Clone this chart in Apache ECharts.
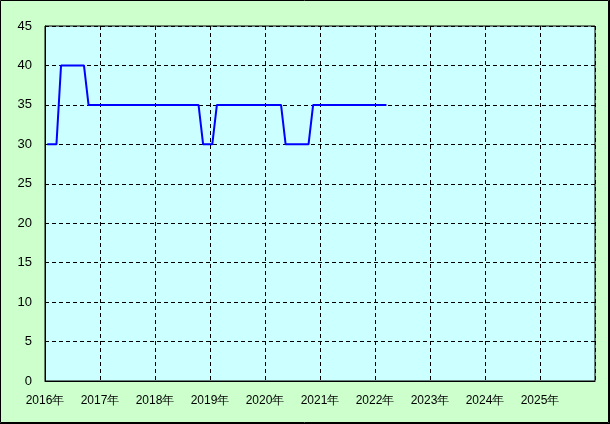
<!DOCTYPE html>
<html>
<head>
<meta charset="utf-8">
<script src="https://cdn.jsdelivr.net/npm/echarts@6/dist/echarts.min.js"></script>
<style>
html,body{margin:0;padding:0;background:#ccffcc;}
#c{width:610px;height:424px;}
</style>
</head>
<body>
<div id="c"></div>
<script>
// monthly observations (year-month) and their values
const months = [
  '2016-01','2016-02','2016-03','2016-04','2016-05','2016-06','2016-07','2016-08','2016-09','2016-10','2016-11','2016-12',
  '2017-01','2017-02','2017-03','2017-04','2017-05','2017-06','2017-07','2017-08','2017-09','2017-10','2017-11','2017-12',
  '2018-01','2018-02','2018-03','2018-04','2018-05','2018-06','2018-07','2018-08','2018-09','2018-10','2018-11','2018-12',
  '2019-01','2019-02','2019-03','2019-04','2019-05','2019-06','2019-07','2019-08','2019-09','2019-10','2019-11','2019-12',
  '2020-01','2020-02','2020-03','2020-04','2020-05','2020-06','2020-07','2020-08','2020-09','2020-10','2020-11','2020-12',
  '2021-01','2021-02','2021-03','2021-04','2021-05','2021-06','2021-07','2021-08','2021-09','2021-10','2021-11','2021-12',
  '2022-01','2022-02','2022-03'
];
const values = [
  30,30,30,40,40,40,40,40,40,35,35,35,
  35,35,35,35,35,35,35,35,35,35,35,35,
  35,35,35,35,35,35,35,35,35,35,30,30,
  30,35,35,35,35,35,35,35,35,35,35,35,
  35,35,35,35,30,30,30,30,30,30,35,35,
  35,35,35,35,35,35,35,35,35,35,35,35,
  35,35,35
];
const xMinYear = 2016;
const xMaxYear = 2026;
const yMin = 0, yMax = 45, yStep = 5;

// place each monthly value at the middle of its month on a year scale
const seriesData = months.map((m, i) => {
  const [y, mo] = m.split('-').map(Number);
  return [y + (mo - 0.5) / 12, values[i]];
});

const chart = echarts.init(document.getElementById('c'), null, {renderer: 'canvas'});
const dash = {color: '#000', width: 1, type: [4, 3]};
chart.setOption({
  animation: false,
  backgroundColor: '#ccffcc',
  textStyle: {fontFamily: 'Liberation Sans, Arial, sans-serif'},
  grid: {
    left: 45, top: 26, right: 15, bottom: 43,
    show: true, backgroundColor: '#ccffff', borderColor: '#000', borderWidth: 1
  },
  xAxis: {
    type: 'value', min: xMinYear, max: xMaxYear, interval: 1,
    axisLine: {show: true, lineStyle: {color: '#000'}},
    axisTick: {show: false},
    splitLine: {show: true, lineStyle: dash},
    axisLabel: {
      color: '#000', fontSize: 12, margin: 14,
      formatter: v => (v < xMaxYear ? v + '年' : '')
    }
  },
  yAxis: {
    type: 'value', min: yMin, max: yMax, interval: yStep,
    axisLine: {show: true, lineStyle: {color: '#000'}},
    axisTick: {show: false},
    splitLine: {show: true, lineStyle: dash},
    axisLabel: {color: '#000', fontSize: 13, margin: 13}
  },
  graphic: [
    {type: 'rect', shape: {x: 0.5, y: 0.5, width: 608, height: 422},
     style: {fill: 'none', stroke: '#000', lineWidth: 1}, silent: true},
    {type: 'line', shape: {x1: 609.5, y1: 0, x2: 609.5, y2: 424},
     style: {stroke: '#000', lineWidth: 1}, silent: true},
    {type: 'line', shape: {x1: 0, y1: 423.5, x2: 610, y2: 423.5},
     style: {stroke: '#000', lineWidth: 1}, silent: true}
  ],
  series: [{
    type: 'line',
    data: seriesData,
    showSymbol: false,
    lineStyle: {color: '#0000ff', width: 2},
    itemStyle: {color: '#0000ff'}
  }]
});
</script>
</body>
</html>
